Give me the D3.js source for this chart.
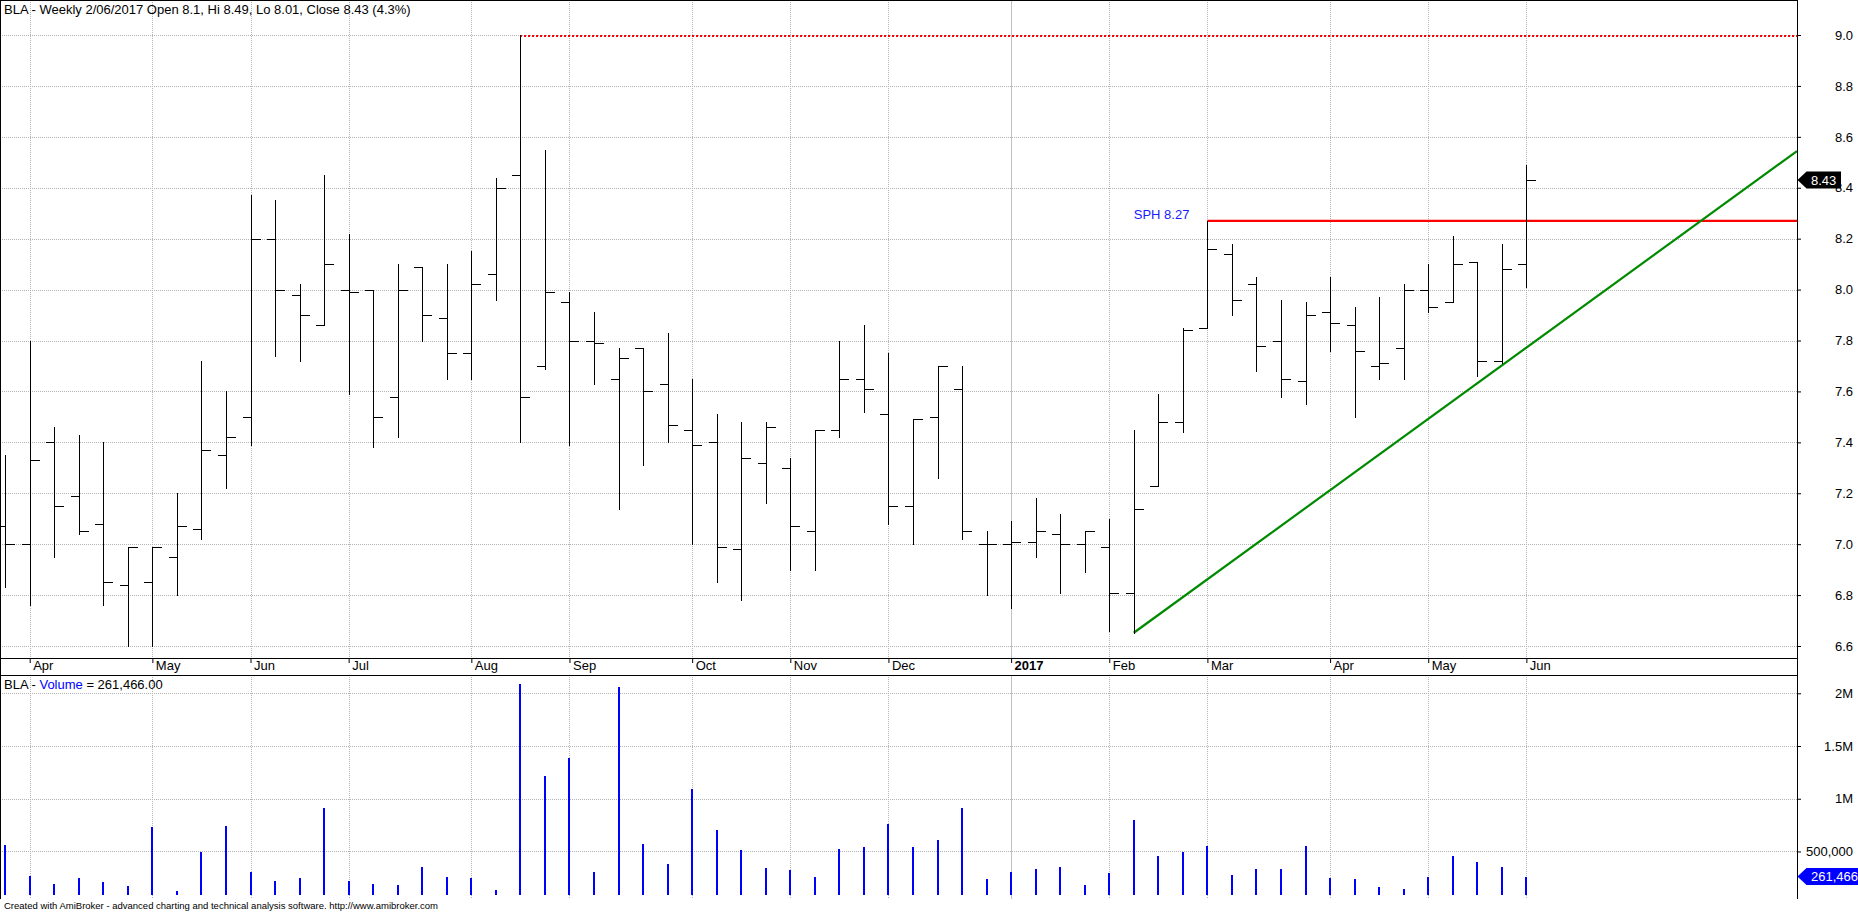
<!DOCTYPE html>
<html><head><meta charset="utf-8">
<script src="https://cdn.jsdelivr.net/npm/d3@7"></script>
<style>
html,body{margin:0;padding:0;background:#fff;overflow:hidden}
svg{display:block;font-family:"Liberation Sans",Arial,sans-serif}
</style></head><body>
<svg id="c" width="1858" height="912"></svg>
<script>
// ---------- DATA ----------
const dates = ["2016-03-25","2016-04-01","2016-04-08","2016-04-15","2016-04-22","2016-04-29","2016-05-06","2016-05-13","2016-05-20","2016-05-27",
"2016-06-03","2016-06-10","2016-06-17","2016-06-24","2016-07-01","2016-07-08","2016-07-15","2016-07-22","2016-07-29","2016-08-05",
"2016-08-12","2016-08-19","2016-08-26","2016-09-02","2016-09-09","2016-09-16","2016-09-23","2016-09-30","2016-10-07","2016-10-14",
"2016-10-21","2016-10-28","2016-11-04","2016-11-11","2016-11-18","2016-11-25","2016-12-02","2016-12-09","2016-12-16","2016-12-23",
"2016-12-30","2017-01-06","2017-01-13","2017-01-20","2017-01-27","2017-02-03","2017-02-10","2017-02-17","2017-02-24","2017-03-03",
"2017-03-10","2017-03-17","2017-03-24","2017-03-31","2017-04-07","2017-04-14","2017-04-21","2017-04-28","2017-05-05","2017-05-12",
"2017-05-19","2017-05-26","2017-06-02"];
const open = [7.07,7.00,7.40,7.19,7.08,6.84,6.85,6.95,7.06,7.35,
7.50,8.20,7.98,7.86,8.00,8.00,7.58,8.09,7.89,7.75,
8.06,8.45,7.70,7.95,7.80,7.65,7.77,7.63,7.45,7.40,
6.98,7.32,7.30,7.05,7.45,7.65,7.51,7.15,7.50,7.61,
7.00,7.00,7.01,7.04,7.00,6.99,6.81,7.23,7.48,7.85,
8.14,8.02,7.80,7.64,7.91,7.86,7.70,7.77,8.00,7.95,
8.11,7.72,8.10];
const high = [7.35,7.80,7.46,7.43,7.40,6.99,6.99,7.20,7.72,7.60,
8.37,8.35,8.02,8.45,8.22,8.00,8.10,8.09,8.10,8.15,
8.44,9.00,8.55,7.99,7.91,7.77,7.77,7.83,7.65,7.51,
7.48,7.48,7.34,7.45,7.80,7.86,7.75,7.49,7.70,7.70,
7.05,7.09,7.18,7.12,7.05,7.10,7.45,7.59,7.85,8.27,
8.18,8.05,7.96,7.95,8.05,7.93,7.97,8.02,8.10,8.21,
8.11,8.18,8.49];
const low = [6.83,6.76,6.95,7.04,6.76,6.60,6.60,6.80,7.02,7.22,
7.39,7.74,7.72,7.86,7.59,7.38,7.42,7.80,7.65,7.65,
7.96,7.40,7.69,7.39,7.63,7.14,7.31,7.40,7.00,6.85,
6.78,7.16,6.90,6.90,7.42,7.52,7.08,7.00,7.26,7.02,
6.80,6.75,6.95,6.81,6.89,6.66,6.65,7.23,7.44,7.85,
7.90,7.68,7.58,7.55,7.76,7.50,7.65,7.65,7.91,7.95,
7.66,7.71,8.01];
const close = [7.00,7.33,7.15,7.05,6.85,6.99,6.99,7.07,7.37,7.42,
8.20,8.00,7.90,8.10,7.99,7.50,8.00,7.90,7.75,8.02,
8.40,7.58,7.99,7.80,7.79,7.73,7.60,7.47,7.39,6.99,
7.34,7.46,7.07,7.45,7.65,7.61,7.15,7.49,7.70,7.05,
7.00,7.01,7.05,7.00,7.05,6.81,7.14,7.48,7.84,8.16,
7.96,7.78,7.65,7.90,7.87,7.76,7.71,8.00,7.93,8.10,
7.72,8.08,8.43];
const volume = [560000,266000,190000,247000,209000,171000,731000,123000,497000,741000,
304000,218000,247000,908000,218000,190000,180000,351000,256000,247000,
133000,2092000,1215000,1386000,304000,2060000,570000,380000,1092000,703000,
513000,342000,323000,256000,522000,541000,759000,541000,608000,911000,
237000,304000,332000,351000,180000,294000,797000,456000,494000,551000,
275000,332000,332000,551000,247000,237000,162000,142000,256000,456000,
399000,351000,261466];
const priceTicks = [6.6,6.8,7.0,7.2,7.4,7.6,7.8,8.0,8.2,8.4,8.6,8.8,9.0];
const volumeTicks = [500000,1000000,1500000,2000000];
const volumeTickLabels = ["500,000","1M","1.5M","2M"];
const titleText = "BLA - Weekly 2/06/2017 Open 8.1, Hi 8.49, Lo 8.01, Close 8.43 (4.3%)";
const volTitleParts = ["BLA - ","Volume"," = 261,466.00"];
const footerText = "Created with AmiBroker - advanced charting and technical analysis software. http://www.amibroker.com";
const sphLevel = 8.27, sphStart = 49, sphLabel = "SPH 8.27";
const topLevel = 9.0, topStart = 21;
const trendAnchors = [{i:46, p:6.652},{i:62, p:7.772}];

// ---------- LAYOUT ----------
const W = 1858, plotRight = 1797;
const priceBottom = 658, axisBottom = 675, volBottom = 899, volBase = 895;
const svg = d3.select("#c");
const parse = d3.timeParse("%Y-%m-%d");
const dt = dates.map(parse);
const last = dates.length - 1;

const x = d3.scaleLinear().domain([-0.21, 73.03]).range([0, plotRight]);
const yP = d3.scaleLinear().domain([6.6, 9.0]).range([646, 35]);
const yV = d3.scaleLinear().domain([87000, 2000000]).range([volBase, 693.3]);

const monthIdx = dt.map((d,i)=>i).filter(i => i>0 && dt[i].getMonth() !== dt[i-1].getMonth());
const monthLabel = i => dt[i].getMonth()===0 ? d3.timeFormat("%Y")(dt[i]) : d3.timeFormat("%b")(dt[i]);
const isYear = i => dt[i].getMonth()===0;
const px = v => Math.round(v) + 0.5;

const grid = svg.append("g").attr("shape-rendering","crispEdges");
// horizontal price grid
grid.selectAll(".hp").data(priceTicks).join("line")
  .attr("x1",0).attr("x2",plotRight).attr("y1",d=>px(yP(d))).attr("y2",d=>px(yP(d)))
  .attr("stroke","#b4b4b4").attr("stroke-dasharray","1,1");
// horizontal volume grid
grid.selectAll(".hv").data(volumeTicks).join("line")
  .attr("x1",0).attr("x2",plotRight).attr("y1",d=>px(yV(d))).attr("y2",d=>px(yV(d)))
  .attr("stroke","#b4b4b4").attr("stroke-dasharray","1,1");
// vertical grid (both panels)
[[0,priceBottom],[axisBottom,volBottom]].forEach(([a,b])=>{
  grid.append("g").selectAll("line").data(monthIdx).join("line")
    .attr("x1",d=>px(x(d))).attr("x2",d=>px(x(d))).attr("y1",a).attr("y2",b)
    .attr("stroke",d=>isYear(d)?"#c0c0c0":"#b4b4b4")
    .attr("stroke-dasharray",d=>isYear(d)?null:"1,1");
});

// ---------- volume bars ----------
svg.append("g").attr("shape-rendering","crispEdges").selectAll("rect").data(volume).join("rect")
  .attr("x",(d,i)=>Math.round(x(i))-1).attr("width",2)
  .attr("y",d=>yV(d)).attr("height",d=>volBase-yV(d)).attr("fill","#0000ff");

// ---------- study lines ----------
svg.append("line").attr("x1",x(topStart)).attr("x2",plotRight)
  .attr("y1",yP(topLevel)+1).attr("y2",yP(topLevel)+1)
  .attr("stroke","#ff0000").attr("stroke-width",2).attr("stroke-dasharray","2,2")
  .attr("shape-rendering","crispEdges");
svg.append("line").attr("x1",x(sphStart)).attr("x2",plotRight)
  .attr("y1",yP(sphLevel)).attr("y2",yP(sphLevel))
  .attr("stroke","#ff0000").attr("stroke-width",2.2);
svg.append("text").attr("x",x(sphStart)-18).attr("y",yP(sphLevel)-2)
  .attr("text-anchor","end").attr("font-size",13).attr("fill","#1a1aff").text(sphLabel);
const slope = (trendAnchors[1].p - trendAnchors[0].p)/(trendAnchors[1].i - trendAnchors[0].i);
const endI = x.domain()[1];
svg.append("line").attr("x1",x(trendAnchors[0].i)).attr("y1",yP(trendAnchors[0].p))
  .attr("x2",x(endI)).attr("y2",yP(trendAnchors[0].p + slope*(endI-trendAnchors[0].i)))
  .attr("stroke","#008a00").attr("stroke-width",2.2);

// ---------- OHLC bars ----------
const bars = svg.append("g").attr("shape-rendering","crispEdges").attr("stroke","#000").attr("stroke-width",1);
dates.forEach((d,i)=>{
  const cx = px(x(i));
  bars.append("line").attr("x1",cx).attr("x2",cx).attr("y1",Math.round(yP(high[i]))).attr("y2",Math.round(yP(low[i]))+1);
  bars.append("line").attr("x1",cx-9).attr("x2",cx).attr("y1",px(yP(open[i]))).attr("y2",px(yP(open[i])));
  bars.append("line").attr("x1",cx).attr("x2",cx+9).attr("y1",px(yP(close[i]))).attr("y2",px(yP(close[i])));
});

// ---------- frame ----------
const frame = svg.append("g").attr("stroke","#000").attr("shape-rendering","crispEdges");
frame.append("line").attr("x1",0.5).attr("x2",0.5).attr("y1",0).attr("y2",volBottom);
frame.append("line").attr("x1",0).attr("x2",plotRight).attr("y1",0.5).attr("y2",0.5);
frame.append("line").attr("x1",plotRight+0.5).attr("x2",plotRight+0.5).attr("y1",0).attr("y2",volBottom);
frame.append("line").attr("x1",0).attr("x2",plotRight).attr("y1",priceBottom+0.5).attr("y2",priceBottom+0.5);
frame.append("line").attr("x1",0).attr("x2",plotRight).attr("y1",axisBottom+0.5).attr("y2",axisBottom+0.5);

// ---------- axes ----------
const gP = svg.append("g").attr("transform",`translate(${plotRight},0)`)
  .call(d3.axisRight(yP).tickValues(priceTicks).tickSize(4).tickFormat(d3.format(".1f")));
gP.select(".domain").remove();
gP.attr("font-size",13).attr("font-family",null);
gP.selectAll("text").attr("x",56).attr("text-anchor","end").attr("fill","#000");

const gV = svg.append("g").attr("transform",`translate(${plotRight},0)`)
  .call(d3.axisRight(yV).tickValues(volumeTicks).tickSize(4).tickFormat((d,i)=>volumeTickLabels[i]));
gV.select(".domain").remove();
gV.attr("font-size",13).attr("font-family",null);
gV.selectAll("text").attr("x",56).attr("text-anchor","end").attr("fill","#000");

const gX = svg.append("g").attr("transform",`translate(0,${priceBottom})`)
  .call(d3.axisBottom(x).tickValues(monthIdx).tickSize(5).tickFormat(monthLabel));
gX.select(".domain").remove();
gX.attr("font-size",13).attr("font-family",null);
gX.selectAll("text").attr("x",3).attr("y",12).attr("dy",0).attr("text-anchor","start")
  .attr("fill","#000").attr("font-weight",d=>isYear(d)?"bold":null);

// ---------- badges ----------
function badge(yc, txt, fill, extend){
  const g = svg.append("g");
  const x0 = plotRight+0.5, x1 = plotRight+extend;
  g.append("path").attr("d",`M${x0},${yc} L${x0+9},${yc-8.5} L${x1},${yc-8.5} L${x1},${yc+8.5} L${x0+9},${yc+8.5} Z`).attr("fill",fill);
  g.append("text").attr("x",plotRight+14).attr("y",yc).attr("dy","0.36em").attr("font-size",13).attr("fill","#fff").text(txt);
}
badge(yP(close[last]), d3.format(".2f")(close[last]), "#000", 44);
badge(yV(volume[last]), d3.format(",")(volume[last]), "#0000ff", 70);

// ---------- texts ----------
svg.append("text").attr("x",4).attr("y",14).attr("font-size",13).attr("fill","#000").text(titleText);
const vt = svg.append("text").attr("x",4).attr("y",689).attr("font-size",13);
vt.append("tspan").attr("fill","#000").text(volTitleParts[0]);
vt.append("tspan").attr("fill","#0000ff").text(volTitleParts[1]);
vt.append("tspan").attr("fill","#000").text(volTitleParts[2]);
svg.append("text").attr("x",4).attr("y",909).attr("font-size",9).attr("fill","#000")
  .attr("textLength",434).attr("lengthAdjust","spacingAndGlyphs").text(footerText);
</script>
</body></html>
